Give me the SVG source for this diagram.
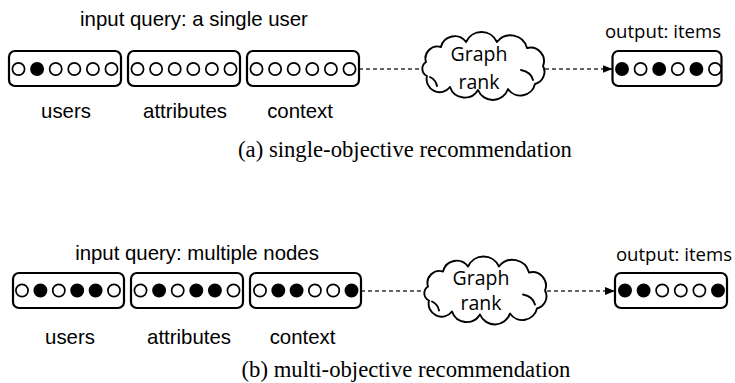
<svg xmlns="http://www.w3.org/2000/svg" xmlns:xlink="http://www.w3.org/1999/xlink" width="735" height="383" viewBox="0 0 735 383">
<style>
.box{fill:#fff;stroke:#000;stroke-width:2.2}
.o{fill:#fff;stroke:#000;stroke-width:1.7}
.f{fill:#000;stroke:#000;stroke-width:1.7}
.lbl{font-family:"Liberation Sans",Arial,sans-serif;font-size:20.4px;fill:#000;text-anchor:middle}
.seg{font-family:"Open Sans","Noto Sans",sans-serif;font-size:18.6px;fill:#000;text-anchor:middle}
.cl{font-family:"Open Sans","Noto Sans",sans-serif;font-size:19.5px;fill:#000;text-anchor:middle}
.cap{font-family:"Liberation Serif","Times New Roman",serif;font-size:22.7px;fill:#000;text-anchor:middle}
.cloud{fill:#fff;stroke:#000;stroke-width:1.9;stroke-linejoin:round}
.inner{fill:none;stroke:#000;stroke-width:1.9;stroke-linecap:round}
.dash{fill:none;stroke:#333;stroke-width:1.3;stroke-dasharray:4 3}
</style>
<defs>
<marker id="arr" markerUnits="userSpaceOnUse" markerWidth="10" markerHeight="8" refX="10" refY="4" orient="auto">
<path d="M0,0 L10,4 L0,8 Z" fill="#000"/>
</marker>
<g id="cloudShape">
<path class="cloud" d="M426,62 A12,12 0 0 1 441,47 A14,14 0 0 1 466,42 A17,17 0 0 1 497,42 A17,17 0 0 1 527,48 A13.5,13.5 0 0 1 543,66 A12.5,12.5 0 0 1 535,84 A15,15 0 0 1 508,89 A16,16 0 0 1 478,90 A15.5,15.5 0 0 1 450,87 A13,13 0 0 1 427,76 A8,8 0 0 1 426,62 Z"/>
<path class="inner" d="M521,70 Q531,72 533,80"/>
<path class="inner" d="M430,77 Q436,80 437,86"/>
</g>
</defs>

<g id="connectors">
<line class="dash" x1="359" y1="69" x2="423" y2="69"/>
<line class="dash" x1="545" y1="69" x2="612.5" y2="69" marker-end="url(#arr)"/>
<line class="dash" x1="361" y1="291" x2="424" y2="291"/>
<line class="dash" x1="547" y1="291" x2="615" y2="291" marker-end="url(#arr)"/>
</g>

<!-- (a) single-objective -->
<g id="a-query-label"><text class="lbl" x="194" y="26">input query: a single user</text></g>

<g id="a-users">
<rect class="box" x="9" y="51" width="112" height="35" rx="6"/>
<circle class="o" cx="18.5" cy="69" r="6.1"/>
<circle class="f" cx="37.1" cy="69" r="6.1"/>
<circle class="o" cx="55.7" cy="69" r="6.1"/>
<circle class="o" cx="74.3" cy="69" r="6.1"/>
<circle class="o" cx="92.9" cy="69" r="6.1"/>
<circle class="o" cx="111.5" cy="69" r="6.1"/>
<text class="lbl" x="66" y="118">users</text>
</g>

<g id="a-attributes">
<rect class="box" x="128" y="51" width="112" height="35" rx="6"/>
<circle class="o" cx="137.5" cy="69" r="6.1"/>
<circle class="o" cx="156.1" cy="69" r="6.1"/>
<circle class="o" cx="174.7" cy="69" r="6.1"/>
<circle class="o" cx="193.3" cy="69" r="6.1"/>
<circle class="o" cx="211.9" cy="69" r="6.1"/>
<circle class="o" cx="230.5" cy="69" r="6.1"/>
<text class="lbl" x="185" y="118">attributes</text>
</g>

<g id="a-context">
<rect class="box" x="247" y="51" width="112" height="35" rx="6"/>
<circle class="o" cx="256.5" cy="69" r="6.1"/>
<circle class="o" cx="275.1" cy="69" r="6.1"/>
<circle class="o" cx="293.7" cy="69" r="6.1"/>
<circle class="o" cx="312.3" cy="69" r="6.1"/>
<circle class="o" cx="330.9" cy="69" r="6.1"/>
<circle class="o" cx="349.5" cy="69" r="6.1"/>
<text class="lbl" x="300" y="118">context</text>
</g>

<g id="a-graphrank">
<use xlink:href="#cloudShape" href="#cloudShape"/>
<text class="cl" x="479" y="61">Graph</text>
<text class="cl" x="479" y="89">rank</text>
</g>

<g id="a-output">
<text class="seg" x="663" y="38">output: items</text>
<rect class="box" x="612.5" y="51" width="109" height="35" rx="6"/>
<circle class="f" cx="622" cy="69" r="6.1"/>
<circle class="o" cx="640.6" cy="69" r="6.1"/>
<circle class="f" cx="659.2" cy="69" r="6.1"/>
<circle class="o" cx="677.8" cy="69" r="6.1"/>
<circle class="f" cx="696.4" cy="69" r="6.1"/>
<circle class="o" cx="715" cy="69" r="6.1"/>
</g>

<g id="caption-a"><text class="cap" x="405" y="156.5">(a) single-objective recommendation</text></g>

<!-- (b) multi-objective -->
<g id="b-query-label"><text class="lbl" x="197" y="259.5">input query: multiple nodes</text></g>

<g id="b-users">
<rect class="box" x="13" y="273" width="111" height="35" rx="6"/>
<circle class="o" cx="22" cy="290.5" r="6.1"/>
<circle class="f" cx="40.4" cy="290.5" r="6.1"/>
<circle class="o" cx="58.8" cy="290.5" r="6.1"/>
<circle class="f" cx="77.2" cy="290.5" r="6.1"/>
<circle class="f" cx="95.6" cy="290.5" r="6.1"/>
<circle class="o" cx="114" cy="290.5" r="6.1"/>
<text class="lbl" x="70" y="344">users</text>
</g>

<g id="b-attributes">
<rect class="box" x="131" y="273" width="112" height="35" rx="6"/>
<circle class="o" cx="140.5" cy="290.5" r="6.1"/>
<circle class="f" cx="159.1" cy="290.5" r="6.1"/>
<circle class="o" cx="177.7" cy="290.5" r="6.1"/>
<circle class="f" cx="196.3" cy="290.5" r="6.1"/>
<circle class="f" cx="214.9" cy="290.5" r="6.1"/>
<circle class="o" cx="233.5" cy="290.5" r="6.1"/>
<text class="lbl" x="189" y="344">attributes</text>
</g>

<g id="b-context">
<rect class="box" x="250" y="273" width="111" height="35" rx="6"/>
<circle class="o" cx="260" cy="290.5" r="6.1"/>
<circle class="f" cx="278.3" cy="290.5" r="6.1"/>
<circle class="f" cx="296.6" cy="290.5" r="6.1"/>
<circle class="o" cx="314.9" cy="290.5" r="6.1"/>
<circle class="o" cx="333.2" cy="290.5" r="6.1"/>
<circle class="f" cx="351.5" cy="290.5" r="6.1"/>
<text class="lbl" x="302.5" y="344">context</text>
</g>

<g id="b-graphrank">
<use xlink:href="#cloudShape" href="#cloudShape" transform="translate(2,224.5)"/>
<text class="cl" x="481" y="285">Graph</text>
<text class="cl" x="481" y="310">rank</text>
</g>

<g id="b-output">
<text class="seg" x="674" y="260.5">output: items</text>
<rect class="box" x="615" y="273" width="112" height="35" rx="6"/>
<circle class="f" cx="625" cy="290.5" r="6.1"/>
<circle class="f" cx="643.6" cy="290.5" r="6.1"/>
<circle class="o" cx="662.2" cy="290.5" r="6.1"/>
<circle class="o" cx="680.8" cy="290.5" r="6.1"/>
<circle class="o" cx="699.4" cy="290.5" r="6.1"/>
<circle class="f" cx="718" cy="290.5" r="6.1"/>
</g>

<g id="caption-b"><text class="cap" x="406" y="377">(b) multi-objective recommendation</text></g>
</svg>
